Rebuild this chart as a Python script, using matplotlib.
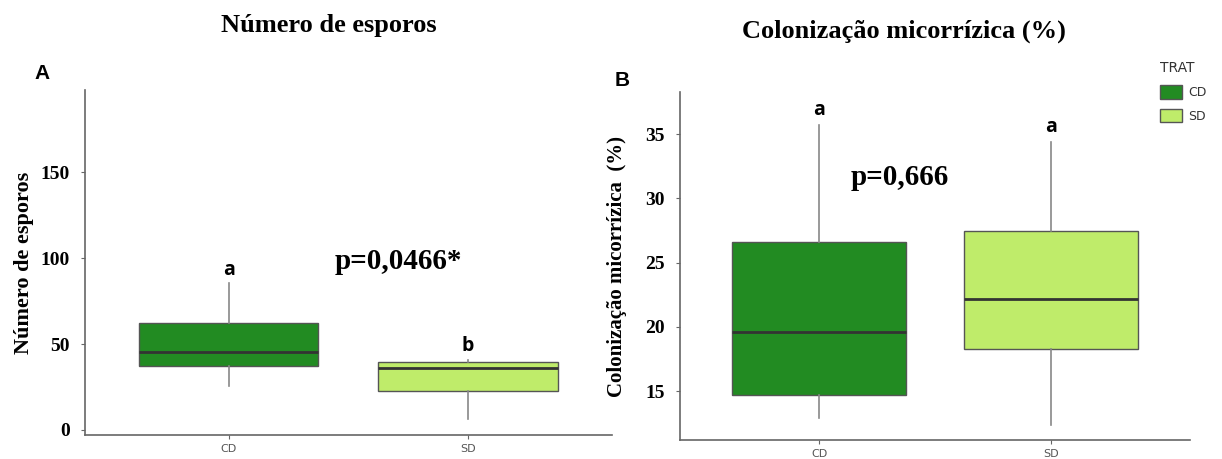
import matplotlib
matplotlib.use('Agg')
import matplotlib.pyplot as plt
from matplotlib.patches import Patch

# categories / treatment
trat = ['CD', 'SD']
cores = ['#228B22', '#BFEC6A']

# Número de esporos (box stats)
esp_whislo = [25.6, 6.4]
esp_q1 = [37.2, 22.7]
esp_med = [45.3, 36.0]
esp_q3 = [62.2, 39.5]
esp_whishi = [85.5, 41.0]
esp_letras = ['a', 'b']

# Colonização micorrízica (%)
col_whislo = [12.9, 12.4]
col_q1 = [14.7, 18.3]
col_med = [19.6, 22.2]
col_q3 = [26.6, 27.5]
col_whishi = [35.7, 34.4]
col_letras = ['a', 'a']

serif = 'Liberation Serif'


def caixas(ax, lo, q1, med, q3, hi):
    stats = []
    for i in range(len(trat)):
        stats.append({'whislo': lo[i], 'q1': q1[i], 'med': med[i],
                      'q3': q3[i], 'whishi': hi[i], 'label': trat[i]})
    bp = ax.bxp(stats, positions=[1, 2], widths=0.75, patch_artist=True,
                showfliers=False, showcaps=False,
                boxprops=dict(edgecolor='#555555', linewidth=1.0),
                medianprops=dict(color='#333333', linewidth=2.0),
                whiskerprops=dict(color='#888888', linewidth=1.2))
    for p, c in zip(bp['boxes'], cores):
        p.set_facecolor(c)
    ax.set_xlim(0.4, 2.6)
    for s in ['top', 'right']:
        ax.spines[s].set_visible(False)
    for s in ['left', 'bottom']:
        ax.spines[s].set_color('#666666')
        ax.spines[s].set_linewidth(1.2)
    ax.tick_params(axis='both', colors='#666666', length=3)
    ax.tick_params(axis='y', pad=8)
    ax.tick_params(axis='x', labelcolor='#555555', labelsize=8)
    for t in ax.get_yticklabels():
        t.set_fontfamily(serif)
        t.set_fontweight('bold')
        t.set_fontsize(14)
        t.set_color('black')


fig = plt.figure(figsize=(12.22, 4.59), dpi=100)

# A
ax1 = fig.add_axes([0.0696, 0.052, 0.431, 0.752])
ax1.set_ylim(-3, 198)
ax1.set_yticks([0, 50, 100, 150])
caixas(ax1, esp_whislo, esp_q1, esp_med, esp_q3, esp_whishi)
ax1.set_ylabel('Número de esporos', fontfamily=serif, fontweight='bold',
               fontsize=16, labelpad=5)
for i, l in enumerate(esp_letras):
    ax1.text(i + 1, esp_whishi[i] + 2, l, ha='center', va='bottom',
             fontfamily='Open Sans', fontweight='bold', fontsize=14)
ax1.text(1.71, 98, 'p=0,0466*', ha='center', va='center', fontfamily=serif,
         fontweight='bold', fontsize=21)
fig.text(0.269, 0.945, 'Número de esporos', ha='center', va='center',
         fontfamily=serif, fontweight='bold', fontsize=19)
fig.text(0.034, 0.84, 'A', ha='center', va='center', fontfamily='Liberation Sans',
         fontweight='bold', fontsize=15)

# B
ax2 = fig.add_axes([0.5565, 0.041, 0.4173, 0.758])
ax2.set_ylim(11.2, 38.25)
ax2.set_yticks([15, 20, 25, 30, 35])
caixas(ax2, col_whislo, col_q1, col_med, col_q3, col_whishi)
ax2.set_ylabel('Colonização micorrízica  (%)', fontfamily=serif,
               fontweight='bold', fontsize=15, labelpad=13)
for i, l in enumerate(col_letras):
    ax2.text(i + 1, col_whishi[i] + 0.4, l, ha='center', va='bottom',
             fontfamily='Open Sans', fontweight='bold', fontsize=14)
ax2.text(1.35, 31.6, 'p=0,666', ha='center', va='center', fontfamily=serif,
         fontweight='bold', fontsize=21)
fig.text(0.74, 0.932, 'Colonização micorrízica (%)', ha='center', va='center',
         fontfamily=serif, fontweight='bold', fontsize=19)
fig.text(0.509, 0.825, 'B', ha='center', va='center', fontfamily='Liberation Sans',
         fontweight='bold', fontsize=15)

# legend
fig.text(0.949, 0.852, 'TRAT', ha='left', va='center', fontsize=10,
         color='#333333')
handles = [Patch(facecolor=c, edgecolor='#555555', label=t) for c, t in zip(cores, trat)]
leg = fig.legend(handles=handles, loc='upper left',
                 bbox_to_anchor=(0.945, 0.825), frameon=False, fontsize=9,
                 handlelength=1.8, handleheight=1.3, borderaxespad=0,
                 labelspacing=0.75, handletextpad=0.5)
for t in leg.get_texts():
    t.set_color('#333333')

fig.savefig('out.png', dpi=100)
